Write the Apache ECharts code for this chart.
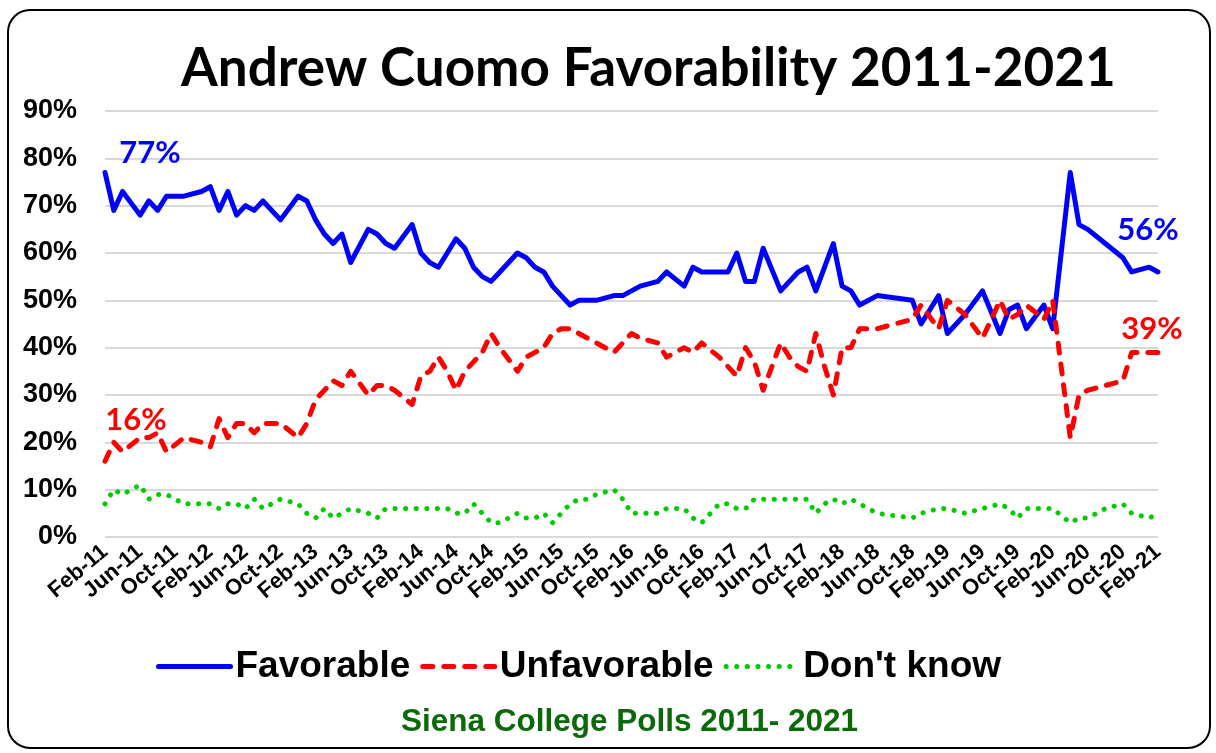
<!DOCTYPE html>
<html>
<head>
<meta charset="utf-8">
<title>Andrew Cuomo Favorability 2011-2021</title>
<script src="https://cdn.jsdelivr.net/npm/echarts@6/dist/echarts.min.js"></script>
<style>
  html, body { margin: 0; padding: 0; background: #fff; }
  #chart { width: 1216px; height: 753px; }
</style>
</head>
<body>
<div id="chart"></div>
<script>
// poll months (Siena College), values in percent
var pollMonths = [
  '2011-02','2011-03','2011-04','2011-06','2011-07','2011-08','2011-09','2011-11',
  '2012-01','2012-02','2012-03','2012-04','2012-05','2012-06','2012-07','2012-08','2012-10','2012-12',
  '2013-01','2013-02','2013-03','2013-04','2013-05','2013-06','2013-08','2013-09','2013-10','2013-11',
  '2014-01','2014-02','2014-03','2014-04','2014-05','2014-06','2014-07','2014-08','2014-09','2014-10','2014-11',
  '2015-01','2015-02','2015-03','2015-04','2015-05','2015-06','2015-07','2015-08','2015-09','2015-10','2015-12',
  '2016-01','2016-02','2016-03','2016-05','2016-06','2016-08','2016-09','2016-10','2016-12',
  '2017-01','2017-02','2017-03','2017-04','2017-05','2017-07','2017-08','2017-09','2017-10','2017-11','2017-12',
  '2018-01','2018-02','2018-03','2018-04','2018-06','2018-10','2018-11',
  '2019-01','2019-02','2019-04','2019-06','2019-08','2019-09','2019-10','2019-11',
  '2020-01','2020-02','2020-04','2020-05','2020-06','2020-08','2020-10','2020-11',
  '2021-01','2021-02'
];
var favorable = [
  77,69,73,68,71,69,72,72,
  73,74,69,73,68,70,69,71,67,72,
  71,67,64,62,64,58,65,64,62,61,
  66,60,58,57,60,63,61,57,55,54,56,
  60,59,57,56,53,51,49,50,50,50,51,
  51,52,53,54,56,53,57,56,56,
  56,60,54,54,61,52,54,56,57,52,57,
  62,53,52,49,51,50,45,
  51,43,47,52,43,48,49,44,
  49,44,77,66,65,62,59,56,
  57,56
];
var unfavorable = [
  16,20,18,21,21,22,18,21,
  20,19,25,21,24,24,22,24,24,21,
  24,29,31,33,32,35,30,32,32,31,
  28,34,35,38,35,31,35,37,39,43,40,
  35,38,39,40,43,44,44,43,42,41,39,
  41,43,42,41,38,40,39,41,38,
  36,34,40,37,31,41,38,36,35,43,36,
  30,40,40,44,44,46,49,
  44,50,47,42,50,46,47,49,
  46,50,21,30,31,32,33,39,
  39,39
];
var dontKnow = [
  7,10,9,11,8,9,9,7,
  7,7,6,7,7,6,8,6,8,7,
  5,4,6,4,5,6,5,4,6,6,
  6,6,6,6,6,5,5,7,5,3,3,
  5,4,4,5,3,5,7,8,8,9,10,
  8,5,5,5,6,6,4,3,7,
  7,6,6,8,8,8,8,8,8,5,7,
  8,7,8,7,5,4,5,6,
  6,5,6,7,6,4,6,
  6,6,3,4,4,6,7,5,
  4,5
];
var monthNames = ['Jan','Feb','Mar','Apr','May','Jun','Jul','Aug','Sep','Oct','Nov','Dec'];

// x position = months since Feb 2011
function monthIndex(s) {
  var p = s.split('-');
  return (parseInt(p[0], 10) - 2011) * 12 + (parseInt(p[1], 10) - 2);
}
function monthLabel(idx) {
  var m = (idx + 1) % 12;
  var y = 2011 + Math.floor((idx + 1) / 12);
  return monthNames[m] + '-' + String(y).slice(2);
}
function pairs(values) {
  return values.map(function (v, i) { return [monthIndex(pollMonths[i]), v]; });
}

var first = monthIndex(pollMonths[0]);
var last = monthIndex(pollMonths[pollMonths.length - 1]);
var endLabel = function (p) { return p.value + '%'; };

var chart = echarts.init(document.getElementById('chart'));

var option = {
  animation: false,
  backgroundColor: '#fff',
  title: [
    {
      text: 'Andrew Cuomo Favorability 2011-2021',
      left: 176,
      top: 37,
      textStyle: { fontFamily: 'Lato', fontWeight: 'bold', fontSize: 53, color: '#000' }
    },
    {
      text: 'Siena College Polls 2011- 2021',
      left: 396,
      top: 701,
      textStyle: { fontFamily: 'Liberation Sans', fontWeight: 'bold', fontSize: 31.5, color: '#0a6a0a' }
    }
  ],
  graphic: [{
    type: 'rect',
    shape: { x: 8, y: 10, width: 1202, height: 738, r: 22 },
    style: { fill: 'none', stroke: '#000', lineWidth: 2 },
    silent: true
  }],
  legend: {
    left: 151,
    top: 643,
    itemWidth: 72,
    itemHeight: 16,
    itemGap: 10,
    itemStyle: { opacity: 0 },
    lineStyle: { width: 5 },
    textStyle: { fontFamily: 'Liberation Sans', fontWeight: 'bold', fontSize: 37, color: '#000' },
    data: ['Favorable', 'Unfavorable', "Don't know"]
  },
  grid: { left: 105, right: 58, top: 111, bottom: 216 },
  xAxis: {
    type: 'value',
    min: 0,
    max: 120,
    interval: 4,
    axisLine: { show: false },
    axisTick: { show: false },
    splitLine: { show: false },
    axisLabel: {
      rotate: 40,
      margin: 12,
      fontFamily: 'Liberation Sans',
      fontWeight: 'bold',
      fontSize: 22,
      color: '#000',
      formatter: function (v) { return monthLabel(v); }
    }
  },
  yAxis: {
    type: 'value',
    min: 0,
    max: 90,
    interval: 10,
    axisLine: { show: false },
    axisTick: { show: false },
    splitLine: { lineStyle: { color: '#d9d9d9', width: 2 } },
    axisLabel: {
      margin: 28,
      fontFamily: 'Liberation Sans',
      fontWeight: 'bold',
      fontSize: 27,
      color: '#000',
      formatter: '{value}%'
    }
  },
  series: [
    {
      name: 'Favorable',
      type: 'line',
      symbol: 'none',
      data: pairs(favorable),
      lineStyle: { color: '#0000ff', width: 5, cap: 'round', join: 'round' },
      itemStyle: { color: '#0000ff' },
      markPoint: {
        symbol: 'circle',
        symbolSize: 1,
        itemStyle: { color: 'transparent' },
        label: { show: true, formatter: endLabel, fontFamily: 'Lato', fontWeight: 'bold', fontSize: 31, color: '#0000ff' },
        data: [
          { coord: [first, favorable[0]], value: favorable[0], label: { position: 'inside', offset: [45, -20] } },
          { coord: [last, favorable[favorable.length - 1]], value: favorable[favorable.length - 1], label: { position: 'inside', offset: [-10, -42] } }
        ]
      }
    },
    {
      name: 'Unfavorable',
      type: 'line',
      symbol: 'none',
      data: pairs(unfavorable),
      lineStyle: { color: '#ff0000', width: 5, type: [10, 11], cap: 'round', join: 'round' },
      itemStyle: { color: '#ff0000' },
      markPoint: {
        symbol: 'circle',
        symbolSize: 1,
        itemStyle: { color: 'transparent' },
        label: { show: true, formatter: endLabel, fontFamily: 'Lato', fontWeight: 'bold', fontSize: 31, color: '#ff0000' },
        data: [
          { coord: [first, unfavorable[0]], value: unfavorable[0], label: { position: 'inside', offset: [31, -41] } },
          { coord: [last, unfavorable[unfavorable.length - 1]], value: unfavorable[unfavorable.length - 1], label: { position: 'inside', offset: [-6, -23] } }
        ]
      }
    },
    {
      name: "Don't know",
      type: 'line',
      symbol: 'none',
      data: pairs(dontKnow),
      lineStyle: { color: '#00cc00', width: 5, type: [0.1, 10.5], cap: 'round', join: 'round' },
      itemStyle: { color: '#00cc00' }
    }
  ]
};

chart.setOption(option);
</script>
</body>
</html>
